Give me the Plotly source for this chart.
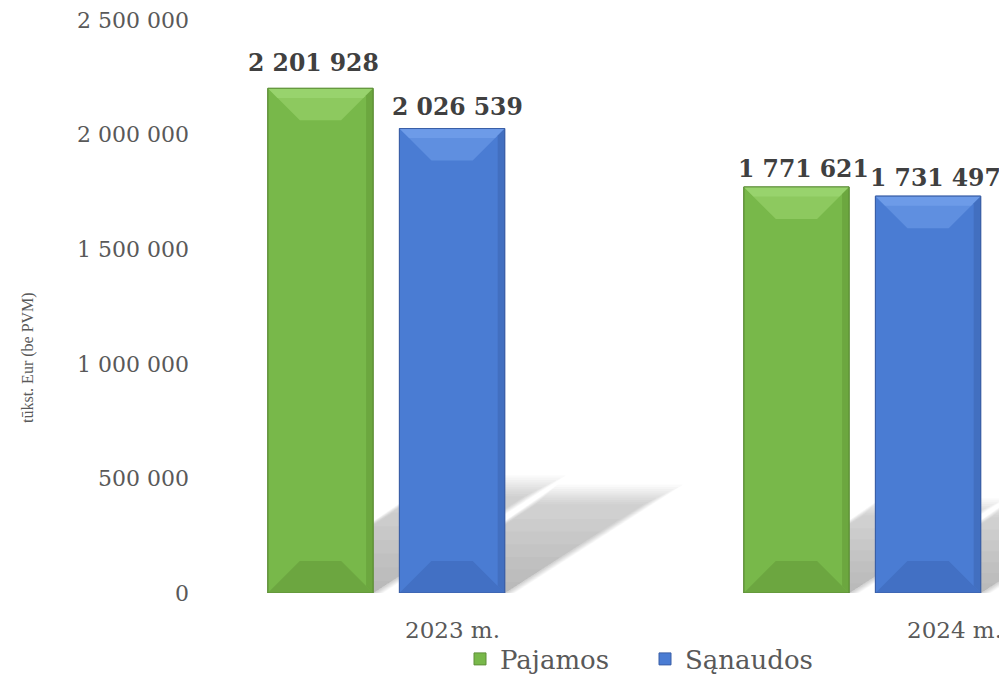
"""Pajamos ir sąnaudos – 3D-like bevelled bar chart."""

import plotly.graph_objects as go

categories = ["2023 m.", "2024 m."]
series_names = ["Pajamos", "Sąnaudos"]
pajamos = [2201928, 1771621]
sanaudos = [2026539, 1731497]
y_ticks = [0, 500000, 1000000, 1500000, 2000000, 2500000]
y_title = "tūkst. Eur (be PVM)"

FONT = "DejaVu Serif"
TXT = "#595959"

# colour sets: body, top bevel, top highlight, bottom bevel, right edge, outline
PALETTE = {
    "Pajamos": ("#78b84a", "#8dc95f", "#a2db78", "#6ca640", "#66a03a", "#5e8f38"),
    "Sąnaudos": ("#4a7cd3", "#5f8fe0", "#78a6ee", "#4270c4", "#3e69b8", "#3a5fa6"),
}

# the page body adds an 8px offset, so the figure is 8px smaller each way
W, H = 999, 668
M = dict(l=192, r=0, t=12, b=83)
X_RANGE = [-0.3913, 1.3041]
Y_RANGE = [0, 2500000]
BARGAP, GROUPGAP = 0.447, 0.2
# value label nudges (px) per series / category, as laid out in the original
LABEL_DX = [[-7, 7], [5, 7]]
LABEL_DY = [[15, 8], [12, 8]]

plot_w = W - M["l"] - M["r"]
plot_h = H - M["t"] - M["b"]
px_x = plot_w / (X_RANGE[1] - X_RANGE[0])
px_y = plot_h / (Y_RANGE[1] - Y_RANGE[0])


def fmt(v):
    return f"{v:,}".replace(",", " ")


fig = go.Figure()
for name, vals in zip(series_names, [pajamos, sanaudos]):
    fig.add_trace(
        go.Bar(
            x=list(range(len(categories))),
            y=vals,
            name=name,
            marker=dict(color=PALETTE[name][0], line=dict(color=PALETTE[name][5], width=1)),
        )
    )

# geometry of the grouped bars (in axis units)
slot = (1 - BARGAP) / 2
bw = slot * (1 - GROUPGAP)
bev_x = 32 / px_x
bev_y = 32 / px_y
edge_x = 7 / px_x
edge_y = 7 / px_y

shapes = []
annotations = []
for k, (name, vals) in enumerate(zip(series_names, [pajamos, sanaudos])):
    body, top_c, hi_c, bot_c, right_c, line_c = PALETTE[name]
    for i, v in enumerate(vals):
        cx = i + (k - 0.5) * slot
        x0, x1 = cx - bw / 2, cx + bw / 2

        # soft cast shadow (skewed footprint), layered to fake blur/fade
        sx = 0.362 * v * px_y / px_x
        sy = 0.233 * v
        fs = [1.0 - 0.2 * j / 10 for j in range(10)] + [0.8 - 0.7 * j / 6 for j in range(1, 7)]
        for j, f in enumerate(fs):
            grow = max(0, 10 - j) * 1.0 / px_x
            shapes.append(dict(
                type="path", layer="below", line_width=0,
                fillcolor="rgba(105,105,105,0.03)",
                path=(f"M{x0},0 L{x1 + grow},0 L{x1 + sx * f + grow},{sy * f} "
                      f"L{x0 + sx * f - grow},{sy * f} Z"),
            ))

        # bevels
        shapes.append(dict(type="path", layer="above", line_width=0, fillcolor=top_c,
                           path=f"M{x0},{v} L{x1},{v} L{x1 - bev_x},{v - bev_y} L{x0 + bev_x},{v - bev_y} Z"))
        shapes.append(dict(type="path", layer="above", line_width=0, fillcolor=hi_c, opacity=0.55,
                           path=(f"M{x0},{v} L{x1},{v} L{x1 - bev_x * 0.3},{v - bev_y * 0.3} "
                                 f"L{x0 + bev_x * 0.3},{v - bev_y * 0.3} Z")))
        shapes.append(dict(type="path", layer="above", line_width=0, fillcolor=bot_c,
                           path=f"M{x0},0 L{x1},0 L{x1 - bev_x},{bev_y} L{x0 + bev_x},{bev_y} Z"))
        shapes.append(dict(type="path", layer="above", line_width=0, fillcolor=right_c, opacity=0.7,
                           path=f"M{x1},{v} L{x1},0 L{x1 - edge_x},{edge_y} L{x1 - edge_x},{v - edge_y} Z"))
        shapes.append(dict(type="rect", layer="above", line=dict(color=line_c, width=1),
                           fillcolor="rgba(0,0,0,0)", x0=x0, x1=x1, y0=0, y1=v))

        # value label
        annotations.append(dict(
            text=f"<b>{fmt(v)}</b>", x=cx, xref="x", y=v, yref="y", yanchor="bottom",
            xshift=LABEL_DX[k][i], yshift=LABEL_DY[k][i] - 6, showarrow=False,
            font=dict(family=FONT, size=23.5, color="#404040"),
        ))

annotations.append(dict(
    text=y_title, textangle=-90, showarrow=False,
    x=(20 - M["l"]) / plot_w, xref="paper", xanchor="center",
    y=(H - M["b"] - 350) / plot_h, yref="paper", yanchor="middle",
    font=dict(family="Liberation Serif", size=16, color=TXT),
))
for i, (cat, shift) in enumerate(zip(categories, [66, 92])):
    annotations.append(dict(text=cat, x=i, xref="x", xshift=shift, y=0, yref="y", yshift=-37,
                            showarrow=False, font=dict(family=FONT, size=23, color=TXT)))

fig.update_layout(
    width=W, height=H, margin=M,
    paper_bgcolor="white", plot_bgcolor="white",
    barmode="group", bargap=BARGAP, bargroupgap=GROUPGAP,
    showlegend=True,
    legend=dict(orientation="h", x=(637 - M["l"]) / plot_w, xanchor="center",
                y=(H - 651) / H, yref="container", yanchor="middle",
                entrywidth=140, entrywidthmode="pixels",
                font=dict(family=FONT, size=26, color=TXT)),
    xaxis=dict(range=X_RANGE, showticklabels=False, showgrid=False, zeroline=False, showline=False),
    yaxis=dict(range=Y_RANGE, tickvals=y_ticks, ticktext=[fmt(t) for t in y_ticks],
               showgrid=False, zeroline=False, showline=False, ticklabelstandoff=10,
               ticklabeloverflow="allow",
               tickfont=dict(family=FONT, size=22, color=TXT)),
    shapes=shapes, annotations=annotations,
)

fig.write_html("out.html")
